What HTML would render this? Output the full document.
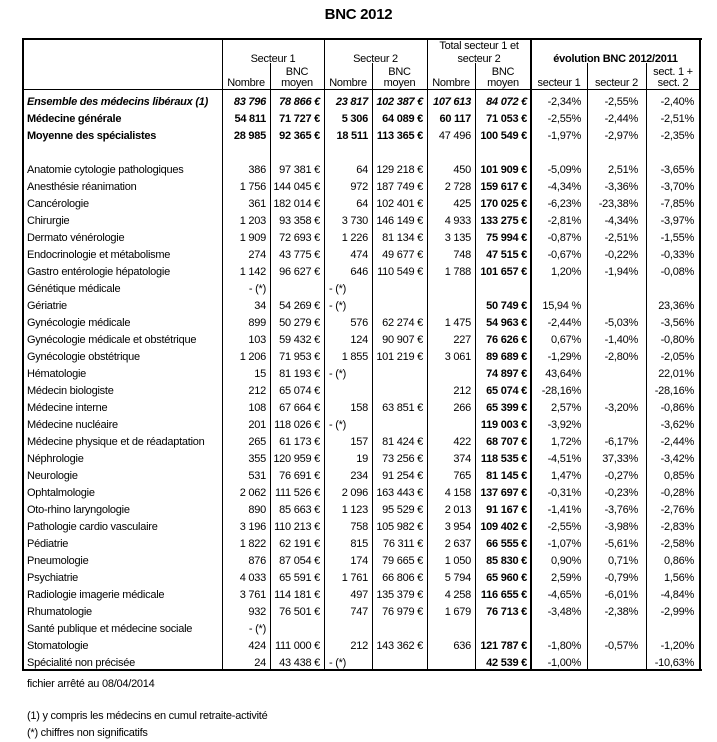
<!DOCTYPE html>
<html><head><meta charset="utf-8">
<style>
html,body{margin:0;padding:0;background:#fff;}
#page{position:relative;width:717px;height:742px;overflow:hidden;font-family:"Liberation Sans",Arial,sans-serif;color:#000;}
.t{position:absolute;font-size:11px;letter-spacing:-0.25px;line-height:13px;white-space:nowrap;}
.b{font-weight:bold;}
.i{font-style:italic;}
.ln{position:absolute;background:#000;}
</style></head>
<body>
<div id="page">
<div class="t b" style="left:0;width:717px;top:6px;text-align:center;font-size:15px;letter-spacing:-0.3px;line-height:17px;">BNC 2012</div>
<div id="tbl"></div>
<div class="t" style="left:27px;top:678px;">fichier arrêté au 08/04/2014</div>
<div class="t" style="left:27px;top:710px;">(1) y compris les médecins en cumul retraite-activité</div>
<div class="t" style="left:27px;top:727px;">(*) chiffres non significatifs</div>
</div>
<script>
const colEdges=[23,222,270,324,372,427,475,531,587,646,700];
const padR=[0,4,4,4,4,4,4,6,8,6];
const topRows=[
 ["Ensemble des médecins libéraux (1)","83 796","78 866 €","23 817","102 387 €","107 613","84 072 €","-2,34%","-2,55%","-2,40%"],
 ["Médecine générale","54 811","71 727 €","5 306","64 089 €","60 117","71 053 €","-2,55%","-2,44%","-2,51%"],
 ["Moyenne des spécialistes","28 985","92 365 €","18 511","113 365 €","47 496","100 549 €","-1,97%","-2,97%","-2,35%"]
];
const rows=[
 ["Anatomie cytologie pathologiques","386","97 381 €","64","129 218 €","450","101 909 €","-5,09%","2,51%","-3,65%"],
 ["Anesthésie réanimation","1 756","144 045 €","972","187 749 €","2 728","159 617 €","-4,34%","-3,36%","-3,70%"],
 ["Cancérologie","361","182 014 €","64","102 401 €","425","170 025 €","-6,23%","-23,38%","-7,85%"],
 ["Chirurgie","1 203","93 358 €","3 730","146 149 €","4 933","133 275 €","-2,81%","-4,34%","-3,97%"],
 ["Dermato vénérologie","1 909","72 693 €","1 226","81 134 €","3 135","75 994 €","-0,87%","-2,51%","-1,55%"],
 ["Endocrinologie et métabolisme","274","43 775 €","474","49 677 €","748","47 515 €","-0,67%","-0,22%","-0,33%"],
 ["Gastro entérologie hépatologie","1 142","96 627 €","646","110 549 €","1 788","101 657 €","1,20%","-1,94%","-0,08%"],
 ["Génétique médicale","- (*)","","- (*)","","","","","",""],
 ["Gériatrie","34","54 269 €","- (*)","","","50 749 €","15,94 %","","23,36%"],
 ["Gynécologie médicale","899","50 279 €","576","62 274 €","1 475","54 963 €","-2,44%","-5,03%","-3,56%"],
 ["Gynécologie médicale et obstétrique","103","59 432 €","124","90 907 €","227","76 626 €","0,67%","-1,40%","-0,80%"],
 ["Gynécologie obstétrique","1 206","71 953 €","1 855","101 219 €","3 061","89 689 €","-1,29%","-2,80%","-2,05%"],
 ["Hématologie","15","81 193 €","- (*)","","","74 897 €","43,64%","","22,01%"],
 ["Médecin biologiste","212","65 074 €","","","212","65 074 €","-28,16%","","-28,16%"],
 ["Médecine interne","108","67 664 €","158","63 851 €","266","65 399 €","2,57%","-3,20%","-0,86%"],
 ["Médecine nucléaire","201","118 026 €","- (*)","","","119 003 €","-3,92%","","-3,62%"],
 ["Médecine physique et de réadaptation","265","61 173 €","157","81 424 €","422","68 707 €","1,72%","-6,17%","-2,44%"],
 ["Néphrologie","355","120 959 €","19","73 256 €","374","118 535 €","-4,51%","37,33%","-3,42%"],
 ["Neurologie","531","76 691 €","234","91 254 €","765","81 145 €","1,47%","-0,27%","0,85%"],
 ["Ophtalmologie","2 062","111 526 €","2 096","163 443 €","4 158","137 697 €","-0,31%","-0,23%","-0,28%"],
 ["Oto-rhino laryngologie","890","85 663 €","1 123","95 529 €","2 013","91 167 €","-1,41%","-3,76%","-2,76%"],
 ["Pathologie cardio vasculaire","3 196","110 213 €","758","105 982 €","3 954","109 402 €","-2,55%","-3,98%","-2,83%"],
 ["Pédiatrie","1 822","62 191 €","815","76 311 €","2 637","66 555 €","-1,07%","-5,61%","-2,58%"],
 ["Pneumologie","876","87 054 €","174","79 665 €","1 050","85 830 €","0,90%","0,71%","0,86%"],
 ["Psychiatrie","4 033","65 591 €","1 761","66 806 €","5 794","65 960 €","2,59%","-0,79%","1,56%"],
 ["Radiologie imagerie médicale","3 761","114 181 €","497","135 379 €","4 258","116 655 €","-4,65%","-6,01%","-4,84%"],
 ["Rhumatologie","932","76 501 €","747","76 979 €","1 679","76 713 €","-3,48%","-2,38%","-2,99%"],
 ["Santé publique et médecine sociale","- (*)","","","","","","","",""],
 ["Stomatologie","424","111 000 €","212","143 362 €","636","121 787 €","-1,80%","-0,57%","-1,20%"],
 ["Spécialité non précisée","24","43 438 €","- (*)","","","42 539 €","-1,00%","","-10,63%"]
];
const page=document.getElementById('page');
function line(x,y,w,h,name){
  const d=document.createElement('div');
  d.className='ln';
  d.style.cssText='left:'+x+'px;top:'+y+'px;width:'+w+'px;height:'+h+'px;';
  
  
  page.appendChild(d);
}
function txt(s,x,w,cy,align,cls,name){
  const d=document.createElement('div');
  d.className='t '+(cls||'');
  d.textContent=s;
  d.style.left=x+'px';d.style.width=w+'px';d.style.top=(cy-5)+'px';d.style.textAlign=align;
  
  
  page.appendChild(d);
}
const tTop=38,tBottom=669,hdr=89,sub=63;
line(22,tTop,680,2,'table-top-border');
line(22,tBottom,680,2,'table-bottom-border');
line(22,tTop,2,tBottom-tTop+2,'table-left-border');
line(699,tTop,2,tBottom-tTop+2,'table-right-border');
line(22,hdr,679,1,'header-bottom-rule');
[222,324,427].forEach(x=>line(x,tTop,1,tBottom-tTop,'column-divider'));
line(530,tTop,2,tBottom-tTop,'column-divider-evolution');
[270,372,475,587,646].forEach(x=>line(x,sub,1,tBottom-sub,'subcolumn-divider'));
function hc(s,c0,c1,cy,cls,name){txt(s,colEdges[c0],colEdges[c1]-colEdges[c0],cy,'center',cls,name);}
hc('Secteur 1',1,3,58,'','header-secteur-1');
hc('Secteur 2',3,5,58,'','header-secteur-2');
hc('Total secteur 1 et',5,7,45,'','header-total-line1');
hc('secteur 2',5,7,58,'','header-total-line2');
hc('évolution BNC 2012/2011',7,10,58,'b','header-evolution');
[1,3,5].forEach(c=>{hc('Nombre',c,c+1,82,'','header-nombre');hc('BNC',c+1,c+2,71,'','header-bnc');hc('moyen',c+1,c+2,82,'','header-moyen');});
hc('secteur 1',7,8,82,'','header-evol-s1');
hc('secteur 2',8,9,82,'','header-evol-s2');
hc('sect. 1 +',9,10,71,'','header-evol-total-l1');
hc('sect. 2',9,10,82,'','header-evol-total-l2');
function drawRow(r,cy,styles){
  txt(r[0],27,195,cy,'left',styles[0],'row-label');
  for(let c=1;c<10;c++){
    const v=r[c]; if(!v) continue;
    const x0=colEdges[c], w=colEdges[c+1]-x0;
    if(v==='- (*)' && c===3){ txt(v,x0+5,w,cy,'left','','cell-not-significant'); continue; }
    txt(v,x0,w-padR[c],cy,'right',styles[c],'cell-value');
  }
}
const topStyles=[
 ['b i','b i','b i','b i','b i','b i','b i','','',''],
 ['b','b','b','b','b','b','b','','',''],
 ['b','b','b','b','b','','b','','','']
];
topRows.forEach((r,i)=>drawRow(r,101+i*17,topStyles[i]));
const specStyle=['','','','','','','b','','',''];
rows.forEach((r,i)=>drawRow(r,169+i*17,specStyle));
</script>
</body></html>
